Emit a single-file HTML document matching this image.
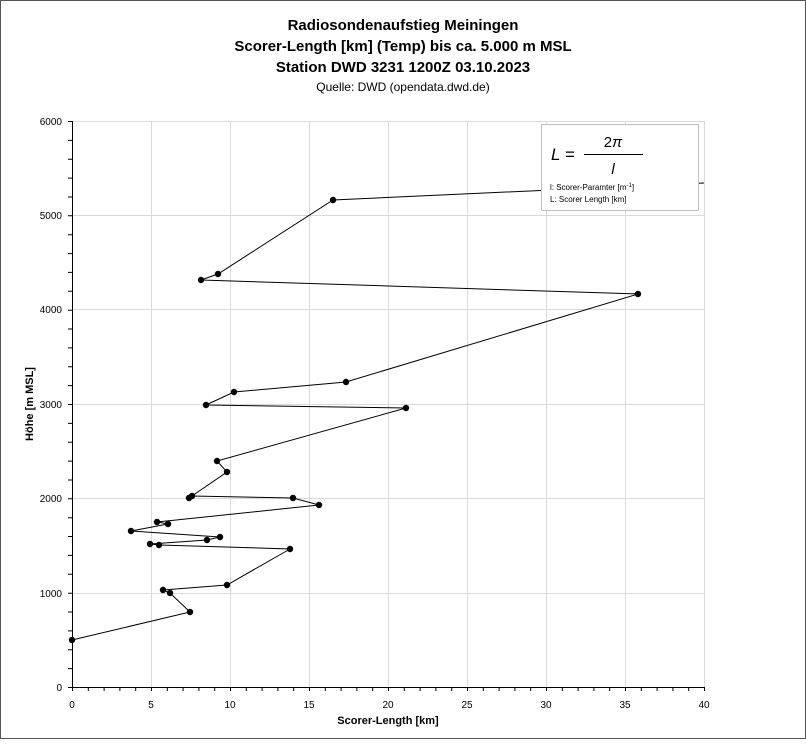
<!DOCTYPE html>
<html><head><meta charset="utf-8"><style>
body{margin:0;background:#fff;}
svg text{font-family:"Liberation Sans",sans-serif;}
</style></head><body>
<svg width="806" height="740" xmlns="http://www.w3.org/2000/svg">
<rect x="0.5" y="0.5" width="805" height="738" fill="#fff" stroke="#555"/>
<text x="403" y="30" font-size="15" font-weight="bold" text-anchor="middle">Radiosondenaufstieg Meiningen</text>
<text x="403" y="51" font-size="15" font-weight="bold" text-anchor="middle">Scorer-Length [km] (Temp) bis ca. 5.000 m MSL</text>
<text x="403" y="72" font-size="15" font-weight="bold" text-anchor="middle">Station DWD 3231 1200Z 03.10.2023</text>
<text x="403" y="91" font-size="12" text-anchor="middle">Quelle: DWD (opendata.dwd.de)</text>
<g stroke="#d9d9d9" stroke-width="1">
<line x1="72" y1="121.5" x2="704" y2="121.5"/>
<line x1="72" y1="215.5" x2="704" y2="215.5"/>
<line x1="72" y1="309.5" x2="704" y2="309.5"/>
<line x1="72" y1="404.5" x2="704" y2="404.5"/>
<line x1="72" y1="498.5" x2="704" y2="498.5"/>
<line x1="72" y1="593.5" x2="704" y2="593.5"/>
<line x1="151.5" y1="121" x2="151.5" y2="687"/>
<line x1="230.5" y1="121" x2="230.5" y2="687"/>
<line x1="309.5" y1="121" x2="309.5" y2="687"/>
<line x1="388.5" y1="121" x2="388.5" y2="687"/>
<line x1="467.5" y1="121" x2="467.5" y2="687"/>
<line x1="546.5" y1="121" x2="546.5" y2="687"/>
<line x1="625.5" y1="121" x2="625.5" y2="687"/>
<line x1="704.5" y1="121" x2="704.5" y2="687"/>
</g>
<g stroke="#000" stroke-width="1">
<line x1="72.5" y1="121" x2="72.5" y2="687"/>
<line x1="72" y1="687.5" x2="704" y2="687.5"/>
<path d="M68 687.5h4M68 668.6h4M68 649.8h4M68 630.9h4M68 612h4M68 593.2h4M68 574.3h4M68 555.4h4M68 536.5h4M68 517.7h4M68 498.8h4M68 480h4M68 461.1h4M68 442.2h4M68 423.4h4M68 404.5h4M68 385.6h4M68 366.8h4M68 347.9h4M68 329h4M68 310.2h4M68 291.3h4M68 272.4h4M68 253.6h4M68 234.7h4M68 215.8h4M68 197h4M68 178.1h4M68 159.2h4M68 140.4h4M68 121.5h4"/>
<path d="M72.5 687v4M88.3 687v4M104.1 687v4M119.9 687v4M135.7 687v4M151.5 687v4M167.3 687v4M183.1 687v4M198.9 687v4M214.7 687v4M230.5 687v4M246.3 687v4M262.1 687v4M277.9 687v4M293.7 687v4M309.5 687v4M325.3 687v4M341.1 687v4M356.9 687v4M372.7 687v4M388.5 687v4M404.3 687v4M420.1 687v4M435.9 687v4M451.7 687v4M467.5 687v4M483.3 687v4M499.1 687v4M514.9 687v4M530.7 687v4M546.5 687v4M562.3 687v4M578.1 687v4M593.9 687v4M609.7 687v4M625.5 687v4M641.3 687v4M657.1 687v4M672.9 687v4M688.7 687v4M704.5 687v4"/>
</g>
<g font-size="10" text-anchor="end">
<text x="62" y="125">6000</text><text x="62" y="219">5000</text><text x="62" y="313">4000</text>
<text x="62" y="408">3000</text><text x="62" y="502">2000</text><text x="62" y="597">1000</text><text x="62" y="691">0</text>
</g>
<g font-size="10" text-anchor="middle">
<text x="72" y="708">0</text><text x="151" y="708">5</text><text x="230" y="708">10</text><text x="309" y="708">15</text>
<text x="388" y="708">20</text><text x="467" y="708">25</text><text x="546" y="708">30</text><text x="625" y="708">35</text><text x="704" y="708">40</text>
</g>
<text x="388" y="724" font-size="11" font-weight="bold" text-anchor="middle">Scorer-Length [km]</text>
<text transform="translate(33,404) rotate(-90)" font-size="11" font-weight="bold" text-anchor="middle">Höhe [m MSL]</text>
<polyline fill="none" stroke="#000" stroke-width="1" points="72,640 190,612 170,593 163,590 227,585 290,549 159,545 150,544 207,540 220,537 131,531 168,524 157,522 319,505 293,498 192,496 189,498 227,472 217,461 406,408 206,405 234,392 346,382 638,294 201,280 218,274 333,200 704,183"/>
<g fill="#000">
<circle cx="72" cy="640" r="3.2"/><circle cx="190" cy="612" r="3.2"/><circle cx="170" cy="593" r="3.2"/><circle cx="163" cy="590" r="3.2"/><circle cx="227" cy="585" r="3.2"/><circle cx="290" cy="549" r="3.2"/><circle cx="159" cy="545" r="3.2"/><circle cx="150" cy="544" r="3.2"/><circle cx="207" cy="540" r="3.2"/><circle cx="220" cy="537" r="3.2"/><circle cx="131" cy="531" r="3.2"/><circle cx="168" cy="524" r="3.2"/><circle cx="157" cy="522" r="3.2"/><circle cx="319" cy="505" r="3.2"/><circle cx="293" cy="498" r="3.2"/><circle cx="192" cy="496" r="3.2"/><circle cx="189" cy="498" r="3.2"/><circle cx="227" cy="472" r="3.2"/><circle cx="217" cy="461" r="3.2"/><circle cx="406" cy="408" r="3.2"/><circle cx="206" cy="405" r="3.2"/><circle cx="234" cy="392" r="3.2"/><circle cx="346" cy="382" r="3.2"/><circle cx="638" cy="294" r="3.2"/><circle cx="201" cy="280" r="3.2"/><circle cx="218" cy="274" r="3.2"/><circle cx="333" cy="200" r="3.2"/>
</g>
<rect x="541.5" y="124.5" width="157" height="86" fill="#fff" stroke="#bfbfbf"/>
<text x="551" y="160" font-size="17" font-family="Liberation Serif" font-style="italic">L</text>
<text x="565" y="160" font-size="17" font-family="Liberation Serif">=</text>
<text x="613" y="147" font-size="15" font-family="Liberation Serif" text-anchor="middle">2<tspan font-style="italic">π</tspan></text>
<line x1="584" y1="154.5" x2="643" y2="154.5" stroke="#000"/>
<text x="613" y="174" font-size="15" font-family="Liberation Serif" font-style="italic" text-anchor="middle">l</text>
<text x="550" y="190" font-size="8">l: Scorer-Paramter [m<tspan font-size="6" dy="-3">-1</tspan><tspan dy="3">]</tspan></text>
<text x="550" y="202" font-size="8">L: Scorer Length [km]</text>
</svg>
</body></html>
